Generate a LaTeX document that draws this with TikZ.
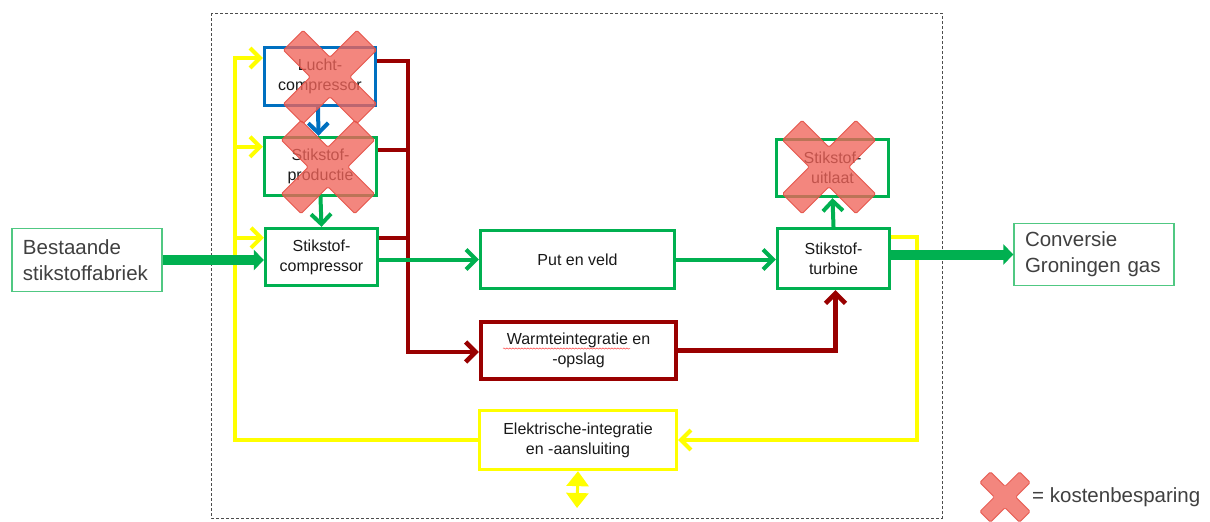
\documentclass[tikz,border=0pt]{standalone}
\usepackage{fontspec}
\setmainfont{Liberation Sans}
\usetikzlibrary{arrows.meta,calc,decorations.pathmorphing}
\definecolor{cgreen}{RGB}{0,176,80}
\definecolor{cblue}{RGB}{0,112,192}
\definecolor{cred}{RGB}{153,0,0}
\definecolor{cyel}{RGB}{255,255,0}
\definecolor{clight}{RGB}{80,200,130}
\definecolor{xfill}{RGB}{240,100,90}
\definecolor{xedge}{RGB}{228,80,70}
\definecolor{txt}{RGB}{64,64,64}
\tikzset{
  box/.style={draw, line width=3.3pt, fill=white, align=center, inner sep=0pt,
    font=\fontsize{16}{20}\selectfont, text=black!90},
  extbox/.style={draw=clight, line width=1.3pt, fill=white, align=left, inner xsep=11pt,
    inner ysep=0pt, font=\fontsize{20.5}{26}\selectfont, text=txt},
  barb/.style={-{Straight Barb[length=10pt,width=20pt]}},
  conn/.style={line width=4pt, line join=miter},
  gr/.style={conn, draw=cgreen},
  bl/.style={conn, draw=cblue},
  redl/.style={conn, draw=cred, line width=4.5pt},
  yl/.style={conn, draw=cyel},
  fat/.style={draw=cgreen, line width=10pt, -{Triangle[length=10pt,width=20pt]}},
  xmark/.pic={\filldraw[xedge, fill=xfill, fill opacity=0.78, draw opacity=0.9, line width=0.8pt,
      rotate=45, rounded corners=1.5pt]
      (-14,52)--(14,52)--(14,14)--(52,14)--(52,-14)--(14,-14)--(14,-52)--(-14,-52)
      --(-14,-14)--(-52,-14)--(-52,14)--(-14,14)--cycle;}
}
\begin{document}
\begin{tikzpicture}[x=1pt,y=-1pt]
\useasboundingbox (0,0) rectangle (1210,522);
\fill[white] (0,0) rectangle (1210,522);
\draw[black!70, line width=0.7pt, dash pattern=on 3pt off 2pt] (211,13) rectangle (942,518);

% boxes
\node[box, draw=cblue, minimum width=111, minimum height=58] (lucht) at (320,76.5) {Lucht-\\compressor};
\node[box, draw=cgreen, minimum width=112, minimum height=58] (prod) at (320.5,166.5) {Stikstof-\\productie};
\node[box, draw=cgreen, minimum width=112, minimum height=57] (comp) at (321.5,257) {Stikstof-\\compressor};
\node[box, draw=cgreen, minimum width=194, minimum height=58] (put) at (577.5,259.5) {Put en veld};
\node[box, draw=cred, line width=4.5pt, minimum width=195, minimum height=57] (warm) at (578.5,350.5) {Warmteintegratie en\\-opslag};
\node[box, draw=cyel, minimum width=197, minimum height=59] (elek) at (578,440) {Elektrische-integratie\\en -aansluiting};
\node[box, draw=cgreen, minimum width=112, minimum height=57] (uitlaat) at (832.5,168) {Stikstof-\\uitlaat};
\node[box, draw=cgreen, minimum width=112, minimum height=60] (turb) at (833.5,258.5) {Stikstof-\\turbine};
\node[extbox, text width=128, minimum height=62.5] (best) at (87,260) {Bestaande\\stikstoffabriek};
\node[extbox, text width=138, minimum height=61.5] (conv) at (1094,254.5) {Conversie\\Groningen gas};

\draw[red!75, line width=0.5pt, decorate, decoration={snake, amplitude=0.6pt, segment length=3pt}]
  (503,348.5) -- (630,348.5);

% yellow
\coordinate (ytop) at (235,58);
\coordinate (ybot) at (917,440);
\draw[yl, barb] (elek.west) -| (ytop) -- (lucht.north west |- ytop);
\draw[yl, barb] ($(prod.north west)+(0,11)$) coordinate (p3) ++(-28,0) -- (p3);
\draw[yl, barb] ($(comp.north west)+(0,11)$) coordinate (p4) ++(-28,0) -- (p4);
\draw[yl, barb] ($(turb.north east)+(0,10)$) coordinate (t1) -| (ybot) -- (elek.east);
\coordinate (grid) at (577,508);
\draw[cyel, line width=3pt, {Triangle[length=15pt,width=22pt]}-{Triangle[length=15pt,width=22pt]}] (elek.south) -- (grid);

% dark red
\coordinate (rtop) at (408,61);
\coordinate (rbot) at (408,352);
\draw[redl, barb] (lucht.east |- rtop) -| (rbot) -- (warm.west |- rbot);
\draw[redl] ($(prod.north east)+(0,14)$) coordinate (p1) -- (rtop |- p1);
\draw[redl] ($(comp.north east)+(0,11)$) coordinate (p2) -- (rtop |- p2);
\draw[redl, barb] (warm.east) -| ($(turb.south)+(2,0)$);

% green / blue
\draw[gr, barb] (comp.east |- put.west) -- (put.west);
\draw[gr, barb] (put.east) -- (turb.west |- put.east);
\draw[gr, barb] (turb.north) -- (uitlaat.south);
\draw[gr, barb] (prod.south) -- (comp.north);
\draw[bl, barb] ($(lucht.south)+(-2,0)$) -- ($(prod.north)+(-2,0)$);
\draw[fat] (best.east) -- (comp.west |- best.east);
\draw[fat] (turb.east |- conv.west) -- (conv.west);

% cost saving marks
\pic at (330,77) {xmark};
\pic at (328,167) {xmark};
\pic at (829,167) {xmark};
\pic[scale=0.54] at (1005,497) {xmark};
\node[anchor=west, inner sep=0pt, font=\fontsize{20.5}{24}\selectfont, text=txt] (legend) at (1032,497) {= kostenbesparing};
\end{tikzpicture}
\end{document}
